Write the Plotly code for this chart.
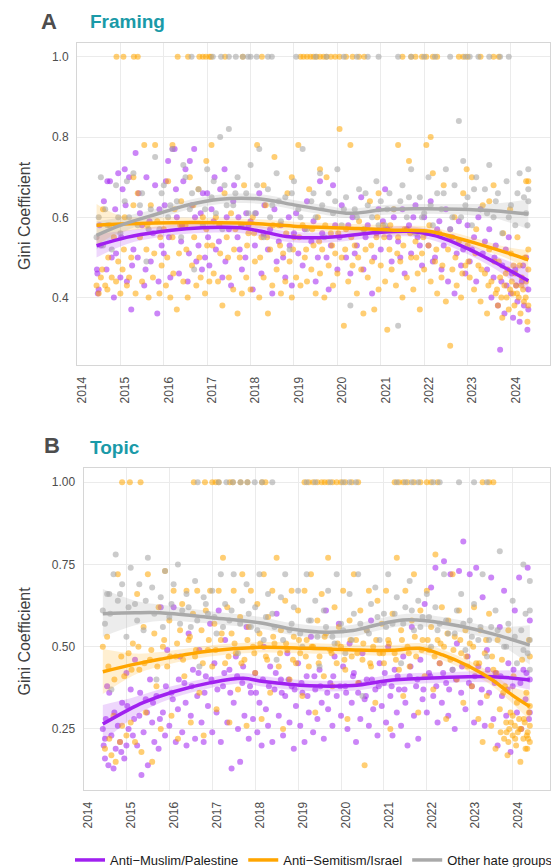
import plotly.graph_objects as go

# ---------------- DATA ----------------
years = [2014, 2015, 2016, 2017, 2018, 2019, 2020, 2021, 2022, 2023, 2024]
series_names = ["Anti\u2212Muslim/Palestine", "Anti\u2212Semitism/Israel", "Other hate groups"]

# Panel A (Framing) points: (decimal year, Gini)
framing_muslim = [
    (2014.46,0.47),(2014.47,0.46),(2014.48,0.41),(2014.5,0.42),(2014.55,0.53),(2014.62,0.64),(2014.7,0.69),
    (2014.76,0.69),(2014.8,0.50),(2014.85,0.40),(2014.9,0.51),(2014.95,0.71),(2015.0,0.45),
    (2015.05,0.67),(2015.1,0.72),(2015.15,0.44),(2015.2,0.70),(2015.25,0.37),(2015.3,0.52),(2015.35,0.76),
    (2015.4,0.50),(2015.45,0.61),(2015.5,0.58),(2015.55,0.43),(2015.6,0.70),(2015.7,0.49),(2015.75,0.56),
    (2015.8,0.68),(2015.85,0.36),(2015.9,0.62),(2015.95,0.53),
    (2016.0,0.51),(2016.05,0.69),(2016.1,0.74),(2016.15,0.45),(2016.2,0.77),(2016.25,0.77),(2016.3,0.60),
    (2016.35,0.46),(2016.4,0.54),(2016.45,0.69),(2016.5,0.72),(2016.55,0.44),(2016.6,0.74),(2016.65,0.63),
    (2016.7,0.77),(2016.75,0.49),(2016.8,0.53),(2016.85,0.61),(2016.9,0.66),(2016.95,0.50),
    (2017.0,0.66),(2017.05,0.48),(2017.1,0.62),(2017.15,0.59),(2017.2,0.52),(2017.3,0.67),(2017.35,0.45),
    (2017.4,0.72),(2017.45,0.60),(2017.5,0.57),(2017.55,0.43),(2017.6,0.64),(2017.7,0.55),(2017.75,0.52),
    (2017.8,0.47),(2017.9,0.61),(2017.95,0.58),
    (2018.0,0.59),(2018.05,0.42),(2018.1,0.53),(2018.2,0.66),(2018.25,0.46),(2018.3,0.56),(2018.4,0.52),
    (2018.5,0.41),(2018.55,0.62),(2018.6,0.49),(2018.7,0.58),(2018.8,0.45),(2018.9,0.53),(2018.95,0.43),
    (2019.0,0.56),(2019.1,0.51),(2019.2,0.48),(2019.3,0.64),(2019.4,0.54),(2019.5,0.44),(2019.6,0.69),
    (2019.65,0.56),(2019.75,0.50),(2019.8,0.42),(2019.9,0.68),(2019.95,0.58),
    (2020.05,0.55),(2020.1,0.63),(2020.2,0.50),(2020.3,0.46),(2020.35,0.60),(2020.45,0.53),(2020.55,0.65),
    (2020.6,0.47),(2020.7,0.58),(2020.8,0.41),(2020.9,0.56),(2020.95,0.62),
    (2021.0,0.52),(2021.1,0.67),(2021.15,0.57),(2021.25,0.49),(2021.3,0.60),(2021.4,0.54),(2021.5,0.62),
    (2021.55,0.46),(2021.65,0.58),(2021.7,0.51),(2021.8,0.63),(2021.85,0.55),(2021.95,0.48),
    (2022.0,0.60),(2022.1,0.53),(2022.15,0.64),(2022.25,0.50),(2022.3,0.57),(2022.4,0.47),(2022.5,0.62),
    (2022.55,0.44),(2022.65,0.55),(2022.7,0.41),(2022.8,0.59),(2022.9,0.52),(2022.95,0.46),
    (2023.0,0.58),(2023.05,0.49),(2023.15,0.55),(2023.2,0.44),(2023.3,0.62),(2023.35,0.51),(2023.45,0.47),
    (2023.5,0.57),(2023.55,0.40),(2023.6,0.45),(2023.65,0.53),(2023.7,0.38),(2023.75,0.27),(2023.8,0.48),
    (2023.85,0.36),(2023.9,0.43),(2023.95,0.55),(2024.0,0.41),(2024.05,0.35),(2024.1,0.47),(2024.15,0.39),
    (2024.2,0.34),(2024.25,0.44),(2024.3,0.38),(2024.35,0.50),(2024.38,0.32),(2024.4,0.42),
    (2014.52,0.58),(2014.68,0.47),(2014.88,0.62),(2015.02,0.55),(2015.12,0.63),(2015.27,0.48),(2015.42,0.66),
    (2015.58,0.47),(2015.67,0.59),(2015.88,0.44),(2016.02,0.63),(2016.12,0.55),(2016.28,0.67),(2016.42,0.58),
    (2016.58,0.51),(2016.72,0.60),(2016.88,0.47),(2017.02,0.55),(2017.17,0.70),(2017.27,0.54),(2017.42,0.49),
    (2017.62,0.68),(2017.72,0.60),(2017.88,0.50),(2018.12,0.61),(2018.32,0.63),(2018.45,0.57),(2018.65,0.54),
    (2018.75,0.50),(2018.88,0.60),(2019.05,0.61),(2019.25,0.57),(2019.45,0.59),(2019.55,0.50),(2019.85,0.53),
    (2020.0,0.47),(2020.25,0.58),(2020.4,0.51),(2020.65,0.55),(2020.85,0.50),(2021.05,0.59),(2021.2,0.55),
    (2021.45,0.50),(2021.6,0.57),(2021.75,0.60),(2021.9,0.53),(2022.05,0.56),(2022.2,0.49),(2022.35,0.59),
    (2022.45,0.53),(2022.6,0.57),(2022.75,0.51),(2022.85,0.48),(2023.1,0.52),(2023.25,0.60),(2023.4,0.54),
    (2023.62,0.50),(2023.78,0.44),(2023.88,0.52),(2024.02,0.46),(2024.12,0.43),(2024.28,0.48),(2024.4,0.37),
]
framing_semit = [
    (2014.45,0.43),(2014.5,0.41),(2014.55,0.45),(2014.6,0.62),(2014.65,0.43),(2014.7,0.42),(2014.75,0.58),
    (2014.8,0.45),(2014.9,0.44),(2014.95,0.49),(2015.0,0.41),
    (2015.05,0.47),(2015.1,0.60),(2015.15,0.43),(2015.2,0.45),(2015.3,0.63),(2015.35,0.41),(2015.4,0.66),
    (2015.5,0.44),(2015.55,0.78),(2015.6,0.52),(2015.65,0.40),(2015.7,0.63),(2015.75,0.45),(2015.8,0.78),
    (2015.85,0.59),(2015.9,0.41),(2015.95,0.48),
    (2016.0,0.57),(2016.05,0.43),(2016.1,0.69),(2016.15,0.40),(2016.2,0.55),(2016.25,0.62),(2016.3,0.37),
    (2016.35,0.51),(2016.4,0.64),(2016.45,0.44),(2016.5,0.58),(2016.55,0.40),(2016.6,0.70),(2016.65,0.48),
    (2016.7,0.55),(2016.75,0.43),(2016.8,0.67),(2016.85,0.45),(2016.9,0.60),(2016.95,0.41),
    (2017.0,0.53),(2017.05,0.44),(2017.1,0.78),(2017.15,0.46),(2017.2,0.60),(2017.25,0.44),(2017.3,0.51),
    (2017.35,0.38),(2017.4,0.66),(2017.45,0.55),(2017.5,0.45),(2017.55,0.61),(2017.6,0.42),(2017.65,0.57),
    (2017.7,0.36),(2017.75,0.50),(2017.8,0.41),(2017.85,0.68),(2017.9,0.45),(2017.95,0.56),
    (2018.0,0.42),(2018.05,0.60),(2018.1,0.49),(2018.15,0.78),(2018.2,0.40),(2018.25,0.55),(2018.3,0.45),
    (2018.35,0.63),(2018.4,0.36),(2018.45,0.52),(2018.5,0.43),(2018.55,0.75),(2018.6,0.47),(2018.65,0.58),
    (2018.7,0.41),(2018.75,0.51),(2018.8,0.44),(2018.85,0.66),(2018.9,0.49),(2018.95,0.40),
    (2019.0,0.55),(2019.05,0.45),(2019.1,0.78),(2019.15,0.43),(2019.2,0.58),(2019.25,0.50),(2019.3,0.44),
    (2019.35,0.67),(2019.4,0.47),(2019.45,0.53),(2019.5,0.41),(2019.55,0.60),(2019.6,0.46),(2019.65,0.52),
    (2019.7,0.40),(2019.75,0.70),(2019.8,0.48),(2019.85,0.56),(2019.9,0.43),(2019.95,0.51),
    (2020.0,0.46),(2020.05,0.82),(2020.1,0.50),(2020.15,0.33),(2020.2,0.57),(2020.25,0.44),(2020.3,0.78),
    (2020.35,0.48),(2020.4,0.53),(2020.45,0.41),(2020.5,0.59),(2020.55,0.47),(2020.6,0.36),(2020.65,0.52),
    (2020.7,0.45),(2020.75,0.64),(2020.8,0.49),(2020.85,0.37),(2020.9,0.55),(2020.95,0.42),
    (2021.0,0.48),(2021.05,0.58),(2021.1,0.44),(2021.15,0.32),(2021.2,0.52),(2021.25,0.47),(2021.3,0.62),
    (2021.35,0.43),(2021.4,0.55),(2021.45,0.49),(2021.5,0.40),(2021.55,0.57),(2021.6,0.45),(2021.65,0.74),
    (2021.7,0.50),(2021.75,0.42),(2021.8,0.54),(2021.85,0.46),(2021.9,0.37),(2021.95,0.51),
    (2022.0,0.47),(2022.05,0.78),(2022.1,0.53),(2022.15,0.44),(2022.2,0.71),(2022.25,0.49),(2022.3,0.41),
    (2022.35,0.56),(2022.4,0.45),(2022.45,0.68),(2022.5,0.39),(2022.55,0.52),(2022.6,0.28),(2022.65,0.47),
    (2022.7,0.60),(2022.75,0.43),(2022.8,0.54),(2022.85,0.40),(2022.9,0.66),(2022.95,0.48),
    (2023.0,0.53),(2023.05,0.45),(2023.1,0.70),(2023.15,0.42),(2023.2,0.57),(2023.25,0.48),(2023.3,0.39),
    (2023.35,0.63),(2023.4,0.46),(2023.45,0.36),(2023.5,0.52),(2023.55,0.44),(2023.6,0.68),(2023.65,0.41),
    (2023.7,0.38),(2023.72,0.49),(2023.75,0.45),(2023.8,0.35),(2023.82,0.56),(2023.85,0.43),(2023.9,0.40),
    (2023.92,0.47),(2023.95,0.37),(2024.0,0.51),(2024.02,0.44),(2024.05,0.41),(2024.08,0.38),(2024.1,0.46),
    (2024.12,0.43),(2024.15,0.55),(2024.18,0.40),(2024.2,0.48),(2024.22,0.36),(2024.25,0.45),(2024.28,0.42),
    (2024.3,0.39),(2024.32,0.50),(2024.35,0.44),(2024.38,0.34),(2024.4,0.47),(2024.4,0.69),(2024.35,0.69),
    (2014.58,0.47),(2014.72,0.50),(2014.85,0.55),(2015.08,0.52),(2015.25,0.50),(2015.45,0.55),(2015.62,0.58),
    (2015.78,0.51),(2015.92,0.55),(2016.08,0.50),(2016.22,0.46),(2016.38,0.58),(2016.52,0.52),(2016.68,0.63),
    (2016.82,0.50),(2016.98,0.57),(2017.12,0.53),(2017.28,0.58),(2017.48,0.50),(2017.62,0.52),(2017.78,0.58),
    (2017.92,0.53),(2018.08,0.56),(2018.22,0.50),(2018.38,0.55),(2018.52,0.58),(2018.68,0.53),(2018.82,0.56),
    (2018.98,0.52),(2019.12,0.55),(2019.28,0.52),(2019.42,0.57),(2019.58,0.54),(2019.72,0.58),(2019.88,0.53),
    (2020.02,0.56),(2020.18,0.52),(2020.32,0.55),(2020.48,0.50),(2020.62,0.57),(2020.78,0.53),(2020.92,0.60),
    (2021.08,0.55),(2021.22,0.58),(2021.38,0.51),(2021.52,0.53),(2021.68,0.56),(2021.82,0.50),(2021.98,0.55),
    (2022.12,0.58),(2022.28,0.52),(2022.42,0.48),(2022.58,0.55),(2022.72,0.50),(2022.88,0.46),(2023.02,0.49),
    (2023.18,0.51),(2023.32,0.47),(2023.48,0.43),(2023.62,0.49),(2023.68,0.42),(2023.78,0.40),(2023.88,0.46),
    (2023.98,0.42),(2024.06,0.48),(2024.14,0.41),(2024.24,0.43),(2024.34,0.40),(2024.4,0.52),(2024.4,0.38),
    (2023.98,0.62),(2023.5,0.64),(2022.98,0.72),(2022.15,0.80),(2021.4,0.78),(2020.95,0.66),(2019.6,0.72),
    (2018.95,0.70),(2018.3,0.68),(2016.98,0.74),(2016.2,0.78),(2015.3,0.70),
]
framing_semit_at_one = [2014.91,2015.07,2015.31,2015.4,2016.32,2016.56,2016.82,2016.9,2016.97,2017.05,2017.09,
    2017.41,2017.82,2018.26,2019.15,2019.22,2019.3,2019.38,2019.45,2019.52,2019.6,2019.68,2019.75,2019.85,
    2019.95,2020.05,2020.2,2020.35,2020.5,2020.62,2021.5,2021.7,2021.8,2021.95,2022.05,2022.2,2022.3,
    2022.8,2022.9,2023.0,2023.3,2023.6,2023.72]
framing_other = [
    (2014.45,0.55),(2014.5,0.60),(2014.55,0.70),(2014.6,0.53),(2014.7,0.58),(2014.8,0.52),(2014.9,0.68),
    (2015.0,0.56),(2015.1,0.64),(2015.2,0.60),(2015.3,0.71),(2015.4,0.58),(2015.5,0.66),(2015.6,0.49),
    (2015.7,0.62),(2015.8,0.75),(2015.9,0.57),(2016.0,0.68),(2016.1,0.60),(2016.2,0.77),(2016.3,0.64),
    (2016.4,0.55),(2016.5,0.70),(2016.6,0.62),(2016.7,0.47),(2016.8,0.67),(2016.9,0.58),(2017.0,0.72),
    (2017.1,0.65),(2017.2,0.61),(2017.3,0.80),(2017.35,0.57),(2017.4,0.68),(2017.5,0.82),(2017.6,0.63),
    (2017.7,0.70),(2017.8,0.58),(2017.9,0.66),(2018.0,0.73),(2018.1,0.61),(2018.2,0.77),(2018.3,0.55),
    (2018.4,0.67),(2018.5,0.63),(2018.6,0.71),(2018.7,0.59),(2018.8,0.65),(2018.9,0.52),(2019.0,0.69),
    (2019.1,0.62),(2019.2,0.77),(2019.3,0.57),(2019.4,0.64),(2019.5,0.60),(2019.6,0.71),(2019.7,0.55),
    (2019.8,0.66),(2019.9,0.61),(2020.0,0.72),(2020.1,0.58),(2020.2,0.65),(2020.3,0.38),(2020.4,0.62),
    (2020.5,0.67),(2020.6,0.57),(2020.7,0.63),(2020.8,0.60),(2020.9,0.69),(2021.0,0.64),(2021.1,0.58),
    (2021.2,0.66),(2021.3,0.62),(2021.4,0.33),(2021.5,0.68),(2021.6,0.60),(2021.7,0.72),(2021.8,0.56),
    (2021.9,0.65),(2022.0,0.61),(2022.1,0.70),(2022.2,0.58),(2022.3,0.66),(2022.4,0.62),(2022.5,0.72),
    (2022.6,0.57),(2022.7,0.68),(2022.8,0.84),(2022.85,0.60),(2022.9,0.74),(2023.0,0.65),(2023.1,0.58),
    (2023.2,0.70),(2023.3,0.62),(2023.4,0.67),(2023.5,0.73),(2023.6,0.60),(2023.7,0.66),(2023.8,0.56),
    (2023.9,0.69),(2024.0,0.63),(2024.1,0.58),(2024.2,0.71),(2024.3,0.65),(2024.35,0.61),(2024.4,0.72),
    (2024.4,0.67),(2024.4,0.64),
    (2014.65,0.62),(2014.95,0.60),(2015.15,0.69),(2015.45,0.63),(2015.65,0.57),(2015.95,0.66),(2016.15,0.63),
    (2016.45,0.73),(2016.65,0.66),(2016.95,0.62),(2017.15,0.69),(2017.45,0.63),(2017.65,0.66),(2017.95,0.61),
    (2018.15,0.68),(2018.45,0.60),(2018.65,0.64),(2018.95,0.66),(2019.15,0.60),(2019.45,0.66),(2019.65,0.63),
    (2019.95,0.64),(2020.15,0.62),(2020.45,0.60),(2020.65,0.66),(2020.95,0.58),(2021.15,0.62),(2021.45,0.64),
    (2021.65,0.65),(2021.95,0.60),(2022.15,0.63),(2022.45,0.66),(2022.65,0.60),(2022.95,0.63),(2023.15,0.67),
    (2023.45,0.61),(2023.65,0.64),(2023.95,0.60),(2024.15,0.66),(2024.38,0.58),
]
framing_other_at_one = [2016.64,2017.13,2017.32,2017.5,2017.66,2017.82,2017.94,2018.0,2018.14,2018.4,2018.49,
    2019.05,2019.5,2019.75,2020.15,2020.45,2020.7,2020.95,2021.4,2021.7,2022.0,2022.25,2022.6,2022.95,
    2023.05,2023.25,2023.5,2023.75,2023.95]

# Panel B (Topic) points
topic_muslim = [
    (2014.45,0.25),(2014.47,0.20),(2014.5,0.16),(2014.5,0.22),(2014.55,0.38),(2014.6,0.36),(2014.65,0.23),
    (2014.7,0.13),(2014.75,0.19),(2014.8,0.26),(2014.85,0.21),(2014.9,0.33),(2014.95,0.16),(2015.0,0.42),(2015.0,0.20),
    (2015.05,0.25),(2015.1,0.37),(2015.15,0.23),(2015.2,0.46),(2015.25,0.20),(2015.3,0.29),(2015.35,0.11),
    (2015.4,0.24),(2015.45,0.34),(2015.5,0.14),(2015.55,0.40),(2015.6,0.27),(2015.65,0.21),(2015.7,0.35),
    (2015.75,0.19),(2015.8,0.62),(2015.85,0.30),(2015.9,0.23),(2015.95,0.49),
    (2016.0,0.26),(2016.05,0.36),(2016.1,0.62),(2016.15,0.21),(2016.2,0.31),(2016.25,0.47),(2016.3,0.24),
    (2016.35,0.39),(2016.4,0.20),(2016.45,0.54),(2016.5,0.29),(2016.55,0.43),(2016.6,0.22),(2016.65,0.35),
    (2016.7,0.49),(2016.75,0.27),(2016.8,0.21),(2016.85,0.41),(2016.9,0.32),(2016.95,0.57),
    (2017.0,0.24),(2017.05,0.45),(2017.1,0.30),(2017.15,0.61),(2017.2,0.21),(2017.25,0.38),(2017.3,0.52),
    (2017.35,0.27),(2017.4,0.43),(2017.45,0.13),(2017.5,0.33),(2017.55,0.47),(2017.6,0.25),(2017.65,0.15),
    (2017.7,0.39),(2017.75,0.29),(2017.8,0.56),(2017.85,0.22),(2017.9,0.36),(2017.95,0.28),
    (2018.0,0.42),(2018.05,0.24),(2018.1,0.33),(2018.15,0.20),(2018.2,0.50),(2018.25,0.31),(2018.3,0.26),
    (2018.35,0.44),(2018.4,0.21),(2018.45,0.37),(2018.5,0.60),(2018.55,0.29),(2018.6,0.40),(2018.65,0.23),
    (2018.7,0.35),(2018.75,0.48),(2018.8,0.27),(2018.85,0.38),(2018.9,0.19),(2018.95,0.32),
    (2019.0,0.45),(2019.05,0.26),(2019.1,0.36),(2019.15,0.21),(2019.2,0.41),(2019.25,0.30),(2019.3,0.53),
    (2019.35,0.24),(2019.4,0.37),(2019.45,0.28),(2019.5,0.43),(2019.55,0.33),(2019.6,0.22),(2019.65,0.61),
    (2019.7,0.31),(2019.75,0.39),(2019.8,0.26),(2019.85,0.47),(2019.9,0.35),(2019.95,0.57),
    (2020.0,0.29),(2020.05,0.44),(2020.1,0.38),(2020.15,0.25),(2020.2,0.51),(2020.25,0.33),(2020.3,0.42),
    (2020.35,0.21),(2020.4,0.36),(2020.45,0.28),(2020.5,0.48),(2020.55,0.34),(2020.6,0.40),(2020.65,0.26),
    (2020.7,0.58),(2020.75,0.31),(2020.8,0.37),(2020.85,0.23),(2020.9,0.45),(2020.95,0.32),
    (2021.0,0.39),(2021.05,0.27),(2021.1,0.50),(2021.15,0.35),(2021.2,0.23),(2021.25,0.43),(2021.3,0.30),
    (2021.35,0.37),(2021.4,0.26),(2021.45,0.47),(2021.5,0.33),(2021.55,0.20),(2021.6,0.41),(2021.65,0.56),
    (2021.7,0.29),(2021.75,0.38),(2021.8,0.22),(2021.85,0.46),(2021.9,0.34),(2021.95,0.63),
    (2022.0,0.30),(2022.05,0.42),(2022.1,0.68),(2022.15,0.35),(2022.2,0.74),(2022.25,0.27),(2022.3,0.45),
    (2022.35,0.33),(2022.4,0.76),(2022.45,0.39),(2022.5,0.29),(2022.55,0.72),(2022.6,0.43),(2022.65,0.25),
    (2022.7,0.51),(2022.75,0.73),(2022.8,0.36),(2022.85,0.82),(2022.9,0.31),(2022.95,0.47),
    (2023.0,0.72),(2023.05,0.38),(2023.1,0.27),(2023.15,0.74),(2023.2,0.44),(2023.25,0.33),(2023.3,0.65),
    (2023.35,0.26),(2023.4,0.49),(2023.45,0.36),(2023.5,0.71),(2023.55,0.28),(2023.6,0.42),(2023.65,0.20),
    (2023.7,0.56),(2023.75,0.35),(2023.8,0.67),(2023.85,0.29),(2023.9,0.45),(2023.95,0.18),(2024.0,0.38),
    (2024.05,0.61),(2024.1,0.30),(2024.15,0.71),(2024.2,0.25),(2024.25,0.43),(2024.3,0.34),(2024.35,0.74),
    (2024.38,0.28),(2024.4,0.40),(2024.4,0.58),
    (2014.52,0.28),(2014.58,0.14),(2014.72,0.30),(2014.88,0.18),(2015.02,0.32),(2015.18,0.28),(2015.32,0.36),
    (2015.48,0.30),(2015.62,0.33),(2015.78,0.28),(2015.92,0.38),(2016.08,0.34),(2016.22,0.40),(2016.38,0.33),
    (2016.52,0.38),(2016.68,0.42),(2016.82,0.36),(2016.98,0.40),(2017.12,0.37),(2017.28,0.42),(2017.42,0.36),
    (2017.58,0.41),(2017.72,0.44),(2017.88,0.38),(2018.02,0.36),(2018.18,0.40),(2018.32,0.38),(2018.48,0.42),
    (2018.62,0.36),(2018.78,0.40),(2018.92,0.37),(2019.08,0.39),(2019.22,0.35),(2019.38,0.41),(2019.52,0.38),
    (2019.68,0.36),(2019.82,0.41),(2019.98,0.38),(2020.12,0.36),(2020.28,0.41),(2020.42,0.39),(2020.58,0.35),
    (2020.72,0.40),(2020.88,0.38),(2021.02,0.42),(2021.18,0.38),(2021.32,0.41),(2021.48,0.37),(2021.62,0.44),
    (2021.78,0.40),(2021.92,0.37),(2022.08,0.41),(2022.22,0.38),(2022.38,0.42),(2022.52,0.37),(2022.68,0.40),
    (2022.82,0.44),(2022.98,0.39),(2023.12,0.41),(2023.28,0.37),(2023.42,0.43),(2023.58,0.39),(2023.72,0.41),
    (2023.88,0.37),(2024.02,0.43),(2024.18,0.39),(2024.32,0.42),(2024.4,0.30),
]
topic_semit = [
    (2014.45,0.50),(2014.5,0.19),(2014.55,0.53),(2014.6,0.22),(2014.65,0.17),(2014.7,0.29),(2014.75,0.15),
    (2014.8,0.72),(2014.85,0.21),(2014.9,0.26),(2014.95,0.41),(2015.0,0.23),
    (2015.05,0.48),(2015.1,0.27),(2015.15,0.51),(2015.2,0.21),(2015.25,0.66),(2015.3,0.43),(2015.35,0.18),
    (2015.4,0.56),(2015.45,0.30),(2015.5,0.72),(2015.55,0.46),(2015.6,0.15),(2015.65,0.54),(2015.7,0.38),
    (2015.75,0.62),(2015.8,0.25),(2015.85,0.50),(2015.9,0.73),(2015.95,0.44),
    (2016.0,0.58),(2016.05,0.29),(2016.1,0.67),(2016.15,0.47),(2016.2,0.22),(2016.25,0.55),(2016.3,0.63),
    (2016.35,0.41),(2016.4,0.67),(2016.45,0.52),(2016.5,0.27),(2016.55,0.60),(2016.6,0.47),(2016.65,0.67),
    (2016.7,0.36),(2016.75,0.55),(2016.8,0.23),(2016.85,0.61),(2016.9,0.49),(2016.95,0.67),
    (2017.0,0.44),(2017.05,0.57),(2017.1,0.31),(2017.15,0.67),(2017.2,0.52),(2017.25,0.77),(2017.3,0.45),
    (2017.35,0.62),(2017.4,0.27),(2017.45,0.54),(2017.5,0.67),(2017.55,0.48),(2017.6,0.37),(2017.65,0.59),
    (2017.7,0.72),(2017.75,0.46),(2017.8,0.26),(2017.85,0.56),(2017.9,0.67),(2017.95,0.50),
    (2018.0,0.42),(2018.05,0.63),(2018.1,0.54),(2018.15,0.28),(2018.2,0.72),(2018.25,0.47),(2018.3,0.59),
    (2018.35,0.36),(2018.4,0.67),(2018.45,0.51),(2018.5,0.77),(2018.55,0.44),(2018.6,0.55),(2018.65,0.25),
    (2018.7,0.64),(2018.75,0.49),(2018.8,0.40),(2018.85,0.67),(2018.9,0.53),(2018.95,0.45),
    (2019.0,0.61),(2019.05,0.48),(2019.1,0.35),(2019.15,0.67),(2019.2,0.52),(2019.25,0.44),(2019.3,0.72),
    (2019.35,0.50),(2019.4,0.30),(2019.45,0.58),(2019.5,0.47),(2019.55,0.66),(2019.6,0.41),(2019.65,0.54),
    (2019.7,0.77),(2019.75,0.49),(2019.8,0.38),(2019.85,0.62),(2019.9,0.45),(2019.95,0.56),
    (2020.0,0.50),(2020.05,0.67),(2020.1,0.43),(2020.15,0.28),(2020.2,0.58),(2020.25,0.47),(2020.3,0.72),
    (2020.35,0.52),(2020.4,0.39),(2020.45,0.61),(2020.5,0.46),(2020.55,0.14),(2020.6,0.55),(2020.65,0.67),
    (2020.7,0.44),(2020.75,0.50),(2020.8,0.33),(2020.85,0.64),(2020.9,0.48),(2020.95,0.57),
    (2021.0,0.45),(2021.05,0.67),(2021.1,0.52),(2021.15,0.25),(2021.2,0.60),(2021.25,0.48),(2021.3,0.77),
    (2021.35,0.43),(2021.4,0.55),(2021.45,0.35),(2021.5,0.67),(2021.55,0.50),(2021.6,0.44),(2021.65,0.58),
    (2021.7,0.72),(2021.75,0.47),(2021.8,0.30),(2021.85,0.61),(2021.9,0.52),(2021.95,0.41),
    (2022.0,0.67),(2022.05,0.49),(2022.1,0.56),(2022.15,0.37),(2022.2,0.78),(2022.25,0.52),(2022.3,0.45),
    (2022.35,0.62),(2022.4,0.50),(2022.45,0.28),(2022.5,0.58),(2022.55,0.46),(2022.6,0.72),(2022.65,0.53),
    (2022.7,0.40),(2022.75,0.61),(2022.8,0.48),(2022.85,0.33),(2022.9,0.55),(2022.95,0.44),
    (2023.0,0.51),(2023.05,0.38),(2023.1,0.62),(2023.15,0.45),(2023.2,0.28),(2023.25,0.55),(2023.3,0.21),
    (2023.35,0.48),(2023.4,0.35),(2023.45,0.60),(2023.5,0.26),(2023.55,0.43),(2023.6,0.19),(2023.65,0.52),
    (2023.7,0.31),(2023.72,0.24),(2023.75,0.46),(2023.8,0.22),(2023.82,0.38),(2023.85,0.27),(2023.88,0.17),
    (2023.9,0.55),(2023.92,0.25),(2023.95,0.30),(2024.0,0.23),(2024.02,0.41),(2024.05,0.26),(2024.08,0.20),
    (2024.1,0.33),(2024.12,0.24),(2024.15,0.28),(2024.18,0.15),(2024.2,0.25),(2024.22,0.46),(2024.25,0.22),
    (2024.28,0.27),(2024.3,0.19),(2024.32,0.36),(2024.35,0.24),(2024.38,0.52),(2024.4,0.21),(2024.4,0.26),
    (2024.4,0.47),(2024.38,0.30),(2024.33,0.23),
    (2014.58,0.44),(2014.72,0.40),(2014.88,0.47),(2015.12,0.43),(2015.28,0.50),(2015.42,0.45),(2015.58,0.49),
    (2015.72,0.44),(2015.88,0.52),(2016.02,0.47),(2016.18,0.51),(2016.32,0.46),(2016.48,0.53),(2016.62,0.49),
    (2016.78,0.45),(2016.92,0.52),(2017.08,0.49),(2017.22,0.54),(2017.38,0.47),(2017.52,0.51),(2017.68,0.45),
    (2017.82,0.52),(2017.98,0.48),(2018.12,0.51),(2018.28,0.46),(2018.42,0.53),(2018.58,0.48),(2018.72,0.51),
    (2018.88,0.46),(2019.02,0.52),(2019.18,0.47),(2019.32,0.50),(2019.48,0.45),(2019.62,0.53),(2019.78,0.48),
    (2019.92,0.51),(2020.08,0.46),(2020.22,0.52),(2020.38,0.48),(2020.52,0.51),(2020.68,0.45),(2020.82,0.52),
    (2020.98,0.48),(2021.12,0.51),(2021.28,0.46),(2021.42,0.52),(2021.58,0.48),(2021.72,0.53),(2021.88,0.49),
    (2022.02,0.52),(2022.18,0.47),(2022.32,0.51),(2022.48,0.54),(2022.62,0.49),(2022.78,0.52),(2022.92,0.47),
    (2023.08,0.50),(2023.22,0.45),(2023.38,0.52),(2023.52,0.47),(2023.62,0.42),(2023.78,0.36),(2023.86,0.24),
    (2023.96,0.27),(2024.06,0.22),(2024.16,0.25),(2024.26,0.28),(2024.36,0.22),(2024.4,0.32),(2024.34,0.19),
    (2024.0,0.29),(2023.9,0.21),
]
topic_semit_at_one = [2014.9,2015.08,2015.33,2016.57,2016.83,2017.0,2017.08,2017.15,2017.41,2017.48,2017.66,
    2017.82,2018.16,2018.24,2019.15,2019.25,2019.35,2019.45,2019.55,2019.62,2019.7,2019.8,2019.9,2020.0,
    2020.1,2020.25,2020.4,2021.25,2021.35,2021.45,2021.55,2021.7,2021.85,2022.0,2022.1,2022.25,2023.3,
    2023.45,2023.55]
topic_other = [
    (2014.45,0.61),(2014.5,0.57),(2014.55,0.66),(2014.6,0.66),(2014.65,0.37),(2014.7,0.72),(2014.75,0.78),
    (2014.8,0.64),(2014.9,0.69),(2015.0,0.53),(2015.1,0.74),(2015.2,0.63),(2015.3,0.69),(2015.4,0.55),
    (2015.5,0.77),(2015.6,0.68),(2015.7,0.40),(2015.8,0.65),(2015.9,0.73),(2016.0,0.59),(2016.1,0.69),
    (2016.2,0.75),(2016.3,0.61),(2016.4,0.66),(2016.5,0.56),(2016.6,0.70),(2016.7,0.44),(2016.8,0.65),
    (2016.9,0.60),(2017.0,0.67),(2017.1,0.54),(2017.2,0.72),(2017.3,0.63),(2017.4,0.58),(2017.5,0.72),
    (2017.6,0.48),(2017.7,0.64),(2017.8,0.69),(2017.9,0.56),(2018.0,0.62),(2018.1,0.72),(2018.2,0.52),
    (2018.3,0.66),(2018.4,0.60),(2018.5,0.46),(2018.6,0.65),(2018.7,0.72),(2018.8,0.55),(2018.9,0.62),
    (2019.0,0.67),(2019.1,0.50),(2019.2,0.72),(2019.3,0.58),(2019.4,0.64),(2019.5,0.44),(2019.6,0.61),
    (2019.7,0.67),(2019.8,0.53),(2019.9,0.72),(2020.0,0.57),(2020.1,0.48),(2020.2,0.66),(2020.3,0.60),
    (2020.4,0.72),(2020.5,0.35),(2020.6,0.55),(2020.7,0.63),(2020.8,0.68),(2020.9,0.52),(2021.0,0.60),
    (2021.1,0.72),(2021.2,0.57),(2021.3,0.65),(2021.4,0.45),(2021.5,0.62),(2021.6,0.70),(2021.7,0.55),
    (2021.8,0.64),(2021.9,0.59),(2022.0,0.66),(2022.1,0.50),(2022.2,0.62),(2022.3,0.57),(2022.4,0.72),
    (2022.5,0.54),(2022.6,0.43),(2022.7,0.61),(2022.8,0.66),(2022.9,0.49),(2023.0,0.58),(2023.1,0.63),
    (2023.2,0.52),(2023.3,0.72),(2023.4,0.47),(2023.5,0.56),(2023.6,0.61),(2023.7,0.79),(2023.8,0.50),
    (2023.9,0.57),(2024.0,0.64),(2024.1,0.45),(2024.2,0.55),(2024.25,0.75),(2024.3,0.60),(2024.35,0.48),
    (2024.4,0.61),(2024.4,0.70),(2024.4,0.43),
    (2014.62,0.60),(2014.85,0.66),(2015.05,0.62),(2015.25,0.58),(2015.45,0.64),(2015.65,0.60),(2015.85,0.56),
    (2016.05,0.63),(2016.25,0.57),(2016.45,0.62),(2016.65,0.58),(2016.85,0.63),(2017.05,0.59),(2017.25,0.56),
    (2017.45,0.61),(2017.65,0.57),(2017.85,0.60),(2018.05,0.55),(2018.25,0.59),(2018.45,0.56),(2018.65,0.52),
    (2018.85,0.57),(2019.05,0.54),(2019.25,0.58),(2019.45,0.53),(2019.65,0.56),(2019.85,0.51),(2020.05,0.55),
    (2020.25,0.52),(2020.45,0.57),(2020.65,0.54),(2020.85,0.59),(2021.05,0.56),(2021.25,0.60),(2021.45,0.57),
    (2021.65,0.61),(2021.85,0.56),(2022.05,0.59),(2022.25,0.55),(2022.45,0.58),(2022.65,0.54),(2022.85,0.57),
    (2023.05,0.53),(2023.25,0.56),(2023.45,0.52),(2023.65,0.55),(2023.85,0.50),(2024.05,0.53),(2024.25,0.49),
    (2024.4,0.52),
]
topic_other_at_one = [2016.66,2017.15,2017.33,2017.48,2017.66,2017.82,2017.99,2018.16,2018.4,2019.2,2019.4,
    2019.75,2020.05,2020.2,2020.35,2021.3,2021.5,2021.65,2021.8,2022.15,2022.3,2022.75,2023.1,2023.4]

# Smoothed trends: (year, fit, lower, upper)
framing_muslim_fit = [
    (2014.45,0.529,0.50,0.558),(2015.14,0.55,0.533,0.567),(2015.9,0.564,0.55,0.578),(2016.7,0.573,0.56,0.586),
    (2017.76,0.574,0.561,0.587),(2018.2,0.566,0.553,0.579),(2018.83,0.552,0.539,0.565),(2019.44,0.549,0.536,0.562),
    (2020.1,0.553,0.54,0.566),(2020.9,0.562,0.549,0.575),(2021.67,0.565,0.552,0.578),(2022.29,0.553,0.54,0.566),
    (2022.98,0.523,0.509,0.537),(2023.59,0.49,0.474,0.506),(2024.4,0.442,0.412,0.472)]
framing_semit_fit = [
    (2014.45,0.58,0.53,0.633),(2015.0,0.583,0.562,0.604),(2015.8,0.586,0.572,0.60),(2016.7,0.587,0.575,0.599),
    (2018.0,0.585,0.574,0.596),(2019.0,0.578,0.567,0.589),(2020.5,0.572,0.561,0.583),(2021.3,0.568,0.557,0.579),
    (2022.06,0.566,0.555,0.577),(2022.5,0.556,0.545,0.567),(2023.2,0.535,0.523,0.547),(2023.9,0.512,0.498,0.526),
    (2024.4,0.494,0.47,0.518)]
framing_other_fit = [
    (2014.45,0.555,0.52,0.59),(2015.0,0.58,0.56,0.60),(2015.9,0.61,0.597,0.623),(2016.6,0.632,0.62,0.644),
    (2017.3,0.645,0.633,0.657),(2018.0,0.647,0.635,0.659),(2018.4,0.643,0.631,0.655),(2019.0,0.631,0.619,0.643),
    (2019.6,0.62,0.608,0.632),(2020.2,0.61,0.598,0.622),(2020.5,0.611,0.599,0.623),(2021.0,0.618,0.606,0.63),
    (2021.75,0.621,0.609,0.633),(2022.8,0.62,0.607,0.633),(2023.6,0.616,0.598,0.634),(2024.4,0.608,0.57,0.645)]
topic_muslim_fit = [
    (2014.45,0.265,0.211,0.323),(2015.0,0.305,0.27,0.34),(2015.39,0.33,0.305,0.355),(2016.1,0.363,0.345,0.381),
    (2016.94,0.39,0.374,0.406),(2017.72,0.404,0.388,0.42),(2018.2,0.394,0.378,0.41),(2019.27,0.381,0.365,0.397),
    (2020.28,0.382,0.366,0.398),(2021.2,0.399,0.383,0.415),(2022.3,0.406,0.39,0.422),(2023.53,0.409,0.391,0.427),
    (2024.4,0.399,0.369,0.429)]
topic_semit_fit = [
    (2014.45,0.424,0.356,0.493),(2015.2,0.447,0.415,0.479),(2015.78,0.462,0.44,0.484),(2016.94,0.487,0.47,0.504),
    (2018.1,0.498,0.482,0.514),(2019.27,0.495,0.479,0.511),(2020.43,0.49,0.474,0.506),(2021.2,0.489,0.473,0.505),
    (2021.83,0.495,0.479,0.511),(2022.37,0.475,0.459,0.491),(2022.99,0.44,0.423,0.457),(2023.53,0.399,0.38,0.418),
    (2023.99,0.353,0.328,0.378),(2024.4,0.318,0.275,0.361)]
topic_other_fit = [
    (2014.45,0.60,0.53,0.675),(2015.2,0.603,0.565,0.64),(2015.78,0.603,0.578,0.628),(2016.94,0.589,0.57,0.608),
    (2018.1,0.573,0.555,0.591),(2018.88,0.553,0.535,0.571),(2019.65,0.544,0.526,0.562),(2020.28,0.549,0.531,0.567),
    (2020.82,0.566,0.548,0.584),(2021.44,0.581,0.563,0.599),(2021.98,0.579,0.561,0.597),(2022.76,0.563,0.545,0.581),
    (2023.53,0.539,0.518,0.56),(2024.4,0.505,0.445,0.565)]

# ---------------- STYLE ----------------
W, H = 551, 867
COLORS = ["#A020F0", "#FFA500", "#A9A9A9"]
PT_RGBA = ["rgba(160,32,240,0.55)", "rgba(255,165,0,0.55)", "rgba(169,169,169,0.6)"]
BAND_RGBA = ["rgba(160,32,240,0.18)", "rgba(255,165,0,0.18)", "rgba(169,169,169,0.22)"]
FONT = "Liberation Sans, Arial, Helvetica, sans-serif"

fig = go.Figure()

panels = [
    ("x", "y", [framing_muslim, framing_semit, framing_other],
     [[], framing_semit_at_one, framing_other_at_one],
     [framing_muslim_fit, framing_semit_fit, framing_other_fit]),
    ("x2", "y2", [topic_muslim, topic_semit, topic_other],
     [[], topic_semit_at_one, topic_other_at_one],
     [topic_muslim_fit, topic_semit_fit, topic_other_fit]),
]

for pi, (xa, ya, pts_list, ones_list, fit_list) in enumerate(panels):
    for si in range(3):
        pts = pts_list[si]
        xs = [p[0] for p in pts] + list(ones_list[si])
        ys = [p[1] for p in pts] + [1.0 for _ in ones_list[si]]
        fig.add_trace(go.Scatter(x=xs, y=ys, mode="markers", xaxis=xa, yaxis=ya,
                                 marker=dict(size=6, color=PT_RGBA[si], line=dict(width=0)),
                                 showlegend=False, hoverinfo="skip"))
    for si in range(3):
        fit = fit_list[si]
        fx = [f[0] for f in fit]
        fig.add_trace(go.Scatter(x=fx, y=[f[2] for f in fit], mode="lines", xaxis=xa, yaxis=ya,
                                 line=dict(width=0, shape="spline", color=BAND_RGBA[si]),
                                 showlegend=False, hoverinfo="skip"))
        fig.add_trace(go.Scatter(x=fx, y=[f[3] for f in fit], mode="lines", xaxis=xa, yaxis=ya,
                                 line=dict(width=0, shape="spline", color=BAND_RGBA[si]),
                                 fill="tonexty", fillcolor=BAND_RGBA[si],
                                 showlegend=False, hoverinfo="skip"))
    for si in range(3):
        fit = fit_list[si]
        fig.add_trace(go.Scatter(x=[f[0] for f in fit], y=[f[1] for f in fit], mode="lines",
                                 xaxis=xa, yaxis=ya, name=series_names[si],
                                 line=dict(width=3.5, shape="spline", color=COLORS[si]),
                                 showlegend=(pi == 0), hoverinfo="skip"))

def px_x(p):
    return p / W

def px_y(p):
    return 1 - p / H

common_x = dict(tickvals=years, ticktext=[str(y) for y in years], tickangle=-90,
                showgrid=True, gridcolor="#EBEBEB", gridwidth=1, zeroline=False,
                showline=True, mirror=True, linecolor="#D6D6D6", linewidth=1,
                ticks="outside", ticklen=6, tickcolor="rgba(0,0,0,0)",
                tickfont=dict(size=12, color="#4D4D4D", family=FONT), ticklabelshift=5)
common_y = dict(showgrid=True, gridcolor="#EBEBEB", gridwidth=1, zeroline=False,
                showline=True, mirror=True, linecolor="#D6D6D6", linewidth=1,
                ticks="outside", ticklen=5, tickcolor="rgba(0,0,0,0)",
                tickfont=dict(size=12, color="#4D4D4D", family=FONT))

fig.update_layout(
    width=W, height=H, margin=dict(l=0, r=0, t=0, b=0, autoexpand=False),
    plot_bgcolor="white", paper_bgcolor="white",
    font=dict(family=FONT), hovermode=False,
    xaxis=dict(domain=[px_x(77), px_x(550)], range=[2014.0, 2024.9], anchor="y", **common_x),
    yaxis=dict(domain=[px_y(365), px_y(42.7)], range=[0.232, 1.035], anchor="x",
               tickvals=[0.4, 0.6, 0.8, 1.0], ticktext=["0.4", "0.6", "0.8", "1.0"], **common_y),
    xaxis2=dict(domain=[px_x(83.5), px_x(550)], range=[2014.0, 2024.87], anchor="y2", **common_x),
    yaxis2=dict(domain=[px_y(790), px_y(467.7)], range=[0.0645, 1.044], anchor="x2",
                tickvals=[0.25, 0.5, 0.75, 1.0], ticktext=["0.25", "0.50", "0.75", "1.00"], **common_y),
    legend=dict(orientation="h", x=px_x(70), xanchor="left", y=px_y(860), yanchor="middle",
                font=dict(size=13, color="#1A1A1A", family=FONT), bgcolor="rgba(0,0,0,0)",
                itemwidth=30, tracegroupgap=0, traceorder="normal"),
    annotations=[
        dict(text="<b>A</b>", x=px_x(39), y=px_y(21.5), xref="paper", yref="paper", xanchor="left",
             yanchor="middle", showarrow=False, font=dict(size=22, color="#4D4D4D", family=FONT)),
        dict(text="<b>Framing</b>", x=px_x(88), y=px_y(21.5), xref="paper", yref="paper", xanchor="left",
             yanchor="middle", showarrow=False, font=dict(size=19, color="#1A9AA8", family=FONT)),
        dict(text="<b>B</b>", x=px_x(41.5), y=px_y(445), xref="paper", yref="paper", xanchor="left",
             yanchor="middle", showarrow=False, font=dict(size=22, color="#4D4D4D", family=FONT)),
        dict(text="<b>Topic</b>", x=px_x(88), y=px_y(448), xref="paper", yref="paper", xanchor="left",
             yanchor="middle", showarrow=False, font=dict(size=19, color="#1A9AA8", family=FONT)),
        dict(text="Gini Coefficient", x=px_x(24), y=px_y(216), xref="paper", yref="paper", textangle=-90,
             xanchor="center", yanchor="middle", showarrow=False, font=dict(size=16, color="#404040", family=FONT)),
        dict(text="Gini Coefficient", x=px_x(24), y=px_y(641.5), xref="paper", yref="paper", textangle=-90,
             xanchor="center", yanchor="middle", showarrow=False, font=dict(size=16, color="#404040", family=FONT)),
    ],
)

# remove the default 8px page margin so the figure sits at the window's top-left corner
fig.write_html("out.html", config={"displayModeBar": False},
               post_script="document.body.style.margin='0px';")
